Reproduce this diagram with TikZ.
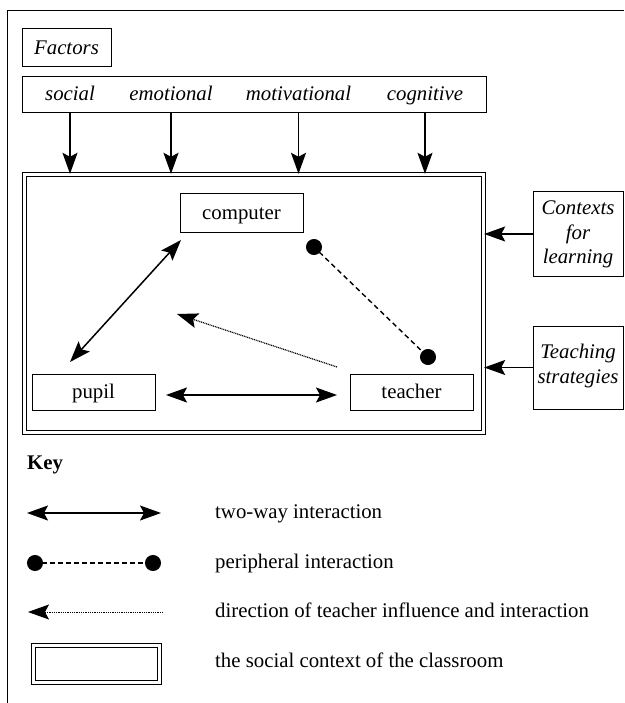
\documentclass[tikz,border=0pt]{standalone}
\usepackage{fontspec}
\setmainfont{Liberation Serif}
\usetikzlibrary{arrows.meta,calc}
\begin{document}
\begin{tikzpicture}[x=1pt,y=-1pt,
  txt/.style={font=\fontsize{20.8}{24}\selectfont, inner sep=0pt},
  box/.style={draw, line width=1pt, inner sep=0pt},
  ital/.style={font=\fontsize{20.8}{24}\selectfont\itshape, inner sep=0pt},
  bigtip/.tip={Stealth[length=21pt,width=15pt,inset=4pt]},
  arr/.style={line width=1.6pt, -bigtip},
  twoway/.style={line width=1.5pt, bigtip-bigtip},
  periph/.style={line width=1.4pt, dash pattern=on 5pt off 3.5pt, {Circle[length=16pt]}-{Circle[length=16pt]}, shorten <=-8pt, shorten >=-8pt},
  infl/.style={line width=1.2pt, dash pattern=on 1pt off 0.8pt, -bigtip},
  dbl/.style={draw, line width=1.1pt, double, double distance=2.5pt, inner sep=0pt},
]
\useasboundingbox (0,0) rectangle (624,703);
% outer frame
\draw[line width=1.2pt] (7.5,703) -- (7.5,10.5) -- (624,10.5);

% Factors
\node[box, minimum width=89pt, minimum height=38pt] (factors) at (66.5,48) {};
\node[ital, anchor=base] (factorsT) at (66.5,54.5) {Factors};
\node[box, minimum width=464pt, minimum height=36pt] (row) at (254,95) {};
\node[ital, anchor=base] (social) at (70,101) {social};
\node[ital, anchor=base] (emotional) at (171,101) {emotional};
\node[ital, anchor=base] (motivational) at (298.5,101) {motivational};
\node[ital, anchor=base] (cognitive) at (425,101) {cognitive};

% classroom
\node[dbl, minimum width=459.3pt, minimum height=258.3pt] (classroom) at (254,303.5) {};

\foreach \w in {social,emotional,motivational,cognitive}
  \draw[arr] (\w |- row.south) -- (\w |- classroom.north);

% inner nodes
\node[box, minimum width=123pt, minimum height=38pt] (computer) at (241.5,213) {};
\node[txt, anchor=base] (computerT) at (241.5,219.5) {computer};
\node[box, minimum width=123pt, minimum height=36pt] (pupil) at (93.5,392) {};
\node[txt, anchor=base] (pupilT) at (93.5,398) {pupil};
\node[box, minimum width=123pt, minimum height=36pt] (teacher) at (411.5,392) {};
\node[txt, anchor=base] (teacherT) at (411.5,398) {teacher};

% side boxes
\node[box, minimum width=90pt, minimum height=84pt] (contexts) at (578,234) {};
\node[ital, anchor=base] (ctxA) at (578,214.5) {Contexts};
\node[ital, anchor=base] (ctxB) at (578,239) {for};
\node[ital, anchor=base] (ctxC) at (578,263) {learning};
\node[box, minimum width=90pt, minimum height=83pt] (teaching) at (578,367.5) {};
\node[ital, anchor=base] (tchA) at (578,358) {Teaching};
\node[ital, anchor=base] (tchB) at (578,383.5) {strategies};
\draw[arr] (contexts.west) -- (contexts.west -| classroom.east);
\draw[arr] (teaching.west) -- (teaching.west -| classroom.east);

% connectors inside
\coordinate (pc1) at (70,362);
\coordinate (pc2) at (181,240);
\draw[twoway] (pc1) -- (pc2);
\coordinate (ptL) at (166,395);
\coordinate (ptR) at (337,395);
\draw[twoway] (ptL) -- (ptR);
\coordinate (ct1) at (314,247);
\coordinate (ct2) at (428,357);
\draw[periph] (ct1) -- (ct2);
\coordinate (inf1) at (337,367);
\coordinate (inf2) at (177,314);
\draw[infl] (inf1) -- (inf2);

% key
\node[txt, font=\fontsize{20.8}{24}\selectfont\bfseries, anchor=base west] (key) at (27,469) {Key};

\coordinate (k1a) at (27,513);
\coordinate (k1b) at (161,513);
\draw[twoway] (k1a) -- (k1b);
\node[txt, anchor=base west] (k1t) at (215,518) {two-way interaction};

\coordinate (k2a) at (35,563);
\coordinate (k2b) at (153,563);
\draw[periph, line width=2.2pt, dash pattern=on 5pt off 3pt] (k2a) -- (k2b);
\node[txt, anchor=base west] (k2t) at (215,568) {peripheral interaction};

\coordinate (k3a) at (163,612);
\coordinate (k3b) at (28,612);
\draw[infl, line width=1pt] (k3a) -- (k3b);
\node[txt, anchor=base west] (k3t) at (215,617) {direction of teacher influence and interaction};

\node[dbl, minimum width=126.3pt, minimum height=37.3pt] (k4box) at (96.5,664) {};
\node[txt, anchor=base west] (k4t) at (215,667) {the social context of the classroom};
\end{tikzpicture}
\end{document}
